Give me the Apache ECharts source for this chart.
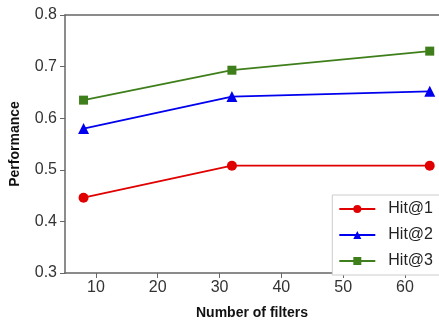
<!DOCTYPE html>
<html>
<head>
<meta charset="utf-8">
<script src="https://cdn.jsdelivr.net/npm/echarts@6/dist/echarts.min.js"></script>
<style>
  html, body { margin: 0; padding: 0; background: #fff; }
  #chart { width: 439px; height: 325px; }
</style>
</head>
<body>
<div id="chart"></div>
<script>
// filters on x, performance on y
var filters = [8, 32, 64]
var hit1 = [0.446, 0.508, 0.508]
var hit2 = [0.580, 0.642, 0.652]
var hit3 = [0.635, 0.693, 0.730]
var xTicks = [10, 20, 30, 40, 50, 60]

var seriesNames = ['Hit@1', 'Hit@2', 'Hit@3']
var seriesColors = ['#e00000', '#0000ee', '#3f7f1b']
var seriesSymbols = ['circle', 'triangle', 'rect']
var seriesSizes = [10, 11, 9]

function pairs(values) {
  return filters.map(function(f, i) { return [f, values[i]] })
}

var font = 'Liberation Sans, Arial, sans-serif'
var axisColor = '#666'

var chart = echarts.init(document.getElementById('chart'))
chart.setOption({
  animation: false,
  grid: { left: 65, top: 15, right: 0, bottom: 46 },
  xAxis: [{
    type: 'value',
    min: 5,
    max: 65.5,
    name: 'Number of filters',
    nameLocation: 'middle',
    nameGap: 33,
    nameTextStyle: { fontFamily: font, fontWeight: 'bold', fontSize: 14, color: '#111' },
    axisLine: { lineStyle: { color: axisColor, width: 1.5 } },
    axisTick: { show: true, length: 5, customValues: xTicks, lineStyle: { color: axisColor } },
    axisLabel: { customValues: xTicks, fontFamily: font, fontSize: 16, color: '#333', margin: 7 },
    splitLine: { show: false }
  }, {
    // top border of the frame
    type: 'value',
    position: 'top',
    min: 5,
    max: 65.5,
    axisLine: { show: true, onZero: false, lineStyle: { color: axisColor, width: 1.5 } },
    axisTick: { show: false },
    axisLabel: { show: false },
    splitLine: { show: false }
  }],
  yAxis: {
    type: 'value',
    min: 0.3,
    max: 0.8,
    interval: 0.1,
    name: 'Performance',
    nameLocation: 'middle',
    nameGap: 43,
    nameTextStyle: { fontFamily: font, fontWeight: 'bold', fontSize: 14, color: '#111' },
    axisLine: { show: true, lineStyle: { color: axisColor, width: 1.5 } },
    axisTick: { show: true, length: 5, lineStyle: { color: axisColor } },
    axisLabel: {
      fontFamily: font, fontSize: 16, color: '#333', margin: 8,
      formatter: function(v) { return v.toFixed(1) }
    },
    splitLine: { show: false }
  },
  legend: {
    right: -2,
    top: 195,
    orient: 'vertical',
    backgroundColor: '#fff',
    borderColor: '#ccc',
    borderWidth: 1,
    padding: [6, 8, 6, 6],
    itemWidth: 36,
    itemHeight: 10,
    itemGap: 10,
    textStyle: { fontFamily: font, fontSize: 16, color: '#222', padding: [0, 0, 0, 8] },
    data: seriesNames
  },
  series: [hit1, hit2, hit3].map(function(vals, i) {
    return {
      name: seriesNames[i],
      type: 'line',
      data: pairs(vals),
      symbol: seriesSymbols[i],
      symbolSize: seriesSizes[i],
      color: seriesColors[i],
      lineStyle: { width: 1.8, color: seriesColors[i] },
      itemStyle: { color: seriesColors[i] }
    }
  })
})
</script>
</body>
</html>
